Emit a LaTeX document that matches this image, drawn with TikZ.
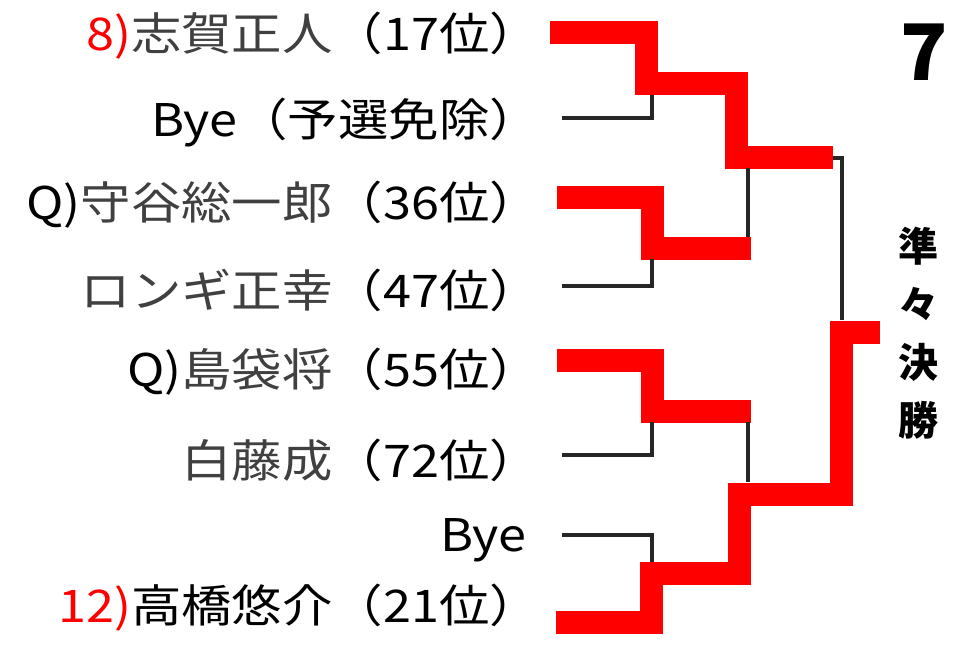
\documentclass[tikz,border=0pt]{standalone}
\usepackage{fontspec}
\newfontfamily\cjk{Noto Sans CJK JP}
\newfontfamily\cjkw[FakeStretch=1.12]{Noto Sans CJK JP}
\begin{document}
\begin{tikzpicture}[x=1pt,y=-1pt,
  nm/.style={anchor=east,inner sep=0pt,font=\cjkw\fontsize{45}{45}\selectfont,text=black!75},
  red/.style={draw=red,line width=23pt,line join=miter},
  blk/.style={draw=black!85,line width=4pt}]
\useasboundingbox (0,0) rectangle (965,657);
\node[nm] (n1) at (540,36) {\textcolor{red}{8)}志賀正人\textcolor{black}{（17位）}};
\node[nm,text=black] (n2) at (540,122) {Bye（予選免除）};
\node[nm] (n3) at (540,205) {\textcolor{black}{Q)}守谷総一郎\textcolor{black}{（36位）}};
\node[nm] (n4) at (540,290) {ロンギ正幸\textcolor{black}{（47位）}};
\node[nm] (n5) at (540,372) {\textcolor{black}{Q)}島袋将\textcolor{black}{（55位）}};
\node[nm] (n6) at (540,460) {白藤成\textcolor{black}{（72位）}};
\node[nm,text=black] (n7) at (527,540) {Bye};
\node[nm,text=black] (n8) at (540,608) {\textcolor{red}{12)}高橋悠介（21位）};
\node[font=\cjk\bfseries\fontsize{78}{78}\selectfont,inner sep=0pt] (seven) at (924,52) {7};
\node[font=\cjk\bfseries\fontsize{40}{58}\selectfont,align=center,inner sep=0pt] (qf) at (918,333) {準\\々\\決\\勝};
\coordinate (a1) at (550,32); \coordinate (a2) at (833,157);
\draw[red] (a1) -- (646,32) -- (646,83) -- (736,83) -- (736,157) -- (a2);
\draw[red] (557,197) -- (652,197) -- (652,248) -- (751,248);
\draw[red] (557,360) -- (652,360) -- (652,411) -- (751,411);
\draw[red] (556,622) -- (651,622) -- (651,573) -- (739,573) -- (739,494) -- (841,494) -- (841,332) -- (880,332);
\draw[blk] (562,118) -- (652,118) -- (652,95);
\draw[blk] (562,286) -- (652,286) -- (652,259);
\draw[blk] (748,168) -- (748,237);
\draw[blk] (833,158) -- (842,158) -- (842,320);
\draw[blk] (562,455) -- (652,455) -- (652,422);
\draw[blk] (748,422) -- (748,482);
\draw[blk] (562,535) -- (652,535) -- (652,562);
\end{tikzpicture}
\end{document}
